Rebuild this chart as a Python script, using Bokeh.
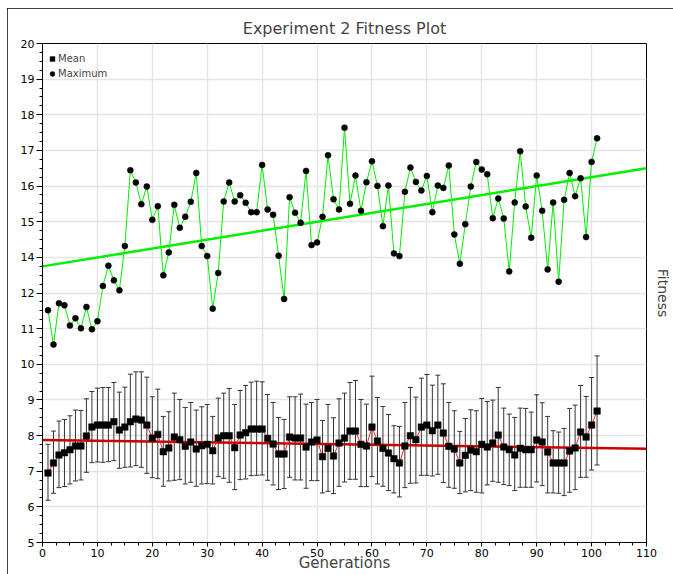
import numpy as np
from bokeh.plotting import figure
from bokeh.models import (Range1d, FixedTicker, Whisker, TeeHead, ColumnDataSource,
                          Legend, LegendItem, LinearAxis)
from bokeh.embed import file_html
from bokeh.resources import INLINE

# ---------------- data ----------------
generations = list(range(1, 102))

max_fitness = [11.98, 10.95, 12.19, 12.13, 11.52, 11.74, 11.44, 12.08, 11.41, 11.65,
               12.71, 13.32, 12.88, 12.58, 13.91, 16.19, 15.82, 15.17, 15.70, 14.70,
               15.11, 13.03, 13.72, 15.15, 14.46, 14.79, 15.24, 16.11, 13.91, 13.61,
               12.03, 13.10, 15.25, 15.82, 15.25, 15.44, 15.21, 14.93, 14.93, 16.35,
               15.01, 14.85, 13.62, 12.32, 15.38, 14.91, 14.61, 16.17, 13.94, 14.02,
               14.79, 16.64, 15.32, 15.01, 17.47, 15.18, 16.03, 14.97, 15.83, 16.46,
               15.72, 14.51, 15.73, 13.69, 13.61, 15.54, 16.27, 15.84, 15.58, 16.02,
               14.93, 15.73, 15.66, 16.33, 14.26, 13.38, 14.57, 15.70, 16.44, 16.21,
               16.07, 14.75, 15.34, 14.74, 13.15, 15.22, 16.76, 15.10, 14.16, 16.03,
               14.97, 13.21, 15.22, 12.84, 15.30, 16.11, 15.41, 15.95, 14.18, 16.44,
               17.15]

mean_fitness = [7.09, 7.39, 7.63, 7.70, 7.79, 7.90, 7.90, 8.20, 8.47, 8.53,
                8.53, 8.53, 8.63, 8.38, 8.47, 8.63, 8.71, 8.68, 8.53, 8.14,
                8.25, 7.73, 7.84, 8.17, 8.09, 7.89, 8.02, 7.81, 7.91, 7.95,
                7.76, 8.14, 8.21, 8.21, 7.85, 8.23, 8.30, 8.41, 8.41, 8.41,
                8.13, 7.96, 7.66, 7.66, 8.17, 8.14, 8.14, 7.87, 8.02, 8.08,
                7.58, 7.83, 7.60, 7.99, 8.14, 8.35, 8.35, 7.95, 7.90, 8.47,
                8.05, 7.83, 7.69, 7.52, 7.39, 7.90, 8.21, 8.09, 8.47, 8.53,
                8.36, 8.53, 8.29, 7.89, 7.81, 7.39, 7.62, 7.78, 7.73, 7.95,
                7.87, 7.99, 8.23, 7.87, 7.79, 7.63, 7.83, 7.79, 7.79, 8.08,
                8.02, 7.72, 7.39, 7.39, 7.39, 7.75, 7.84, 8.32, 8.17, 8.53,
                8.95]

mean_upper = [7.95, 8.35, 8.65, 8.70, 8.81, 8.98, 8.97, 9.32, 9.54, 9.64,
              9.66, 9.66, 9.81, 9.52, 9.67, 10.06, 10.13, 10.13, 9.97, 9.38,
              9.61, 8.79, 8.93, 9.49, 9.30, 9.06, 9.21, 8.98, 9.08, 9.15,
              8.79, 9.34, 9.49, 9.63, 9.15, 9.57, 9.72, 9.82, 9.85, 9.83,
              9.45, 9.21, 8.76, 8.70, 9.38, 9.38, 9.46, 9.16, 9.21, 9.30,
              8.67, 9.15, 8.75, 9.32, 9.49, 9.81, 9.87, 9.30, 9.16, 10.00,
              9.36, 9.09, 8.85, 8.51, 8.49, 9.21, 9.66, 9.37, 9.94, 10.05,
              9.73, 10.03, 9.77, 9.21, 8.96, 8.34, 8.73, 8.99, 8.96, 9.33,
              9.24, 9.28, 9.66, 9.04, 8.86, 8.76, 9.04, 9.03, 8.92, 9.44,
              9.20, 8.79, 8.36, 8.32, 8.43, 9.03, 9.13, 9.72, 9.39, 9.96,
              10.61]

mean_lower = [6.27, 6.48, 6.65, 6.68, 6.76, 6.85, 6.88, 7.11, 7.40, 7.42,
              7.41, 7.43, 7.46, 7.23, 7.26, 7.27, 7.31, 7.26, 7.08, 6.95,
              6.92, 6.69, 6.85, 6.87, 6.89, 6.76, 6.81, 6.69, 6.76, 6.77,
              6.76, 6.98, 6.93, 6.81, 6.59, 6.89, 6.91, 7.01, 7.02, 7.03,
              6.87, 6.73, 6.59, 6.62, 6.96, 6.88, 6.88, 6.63, 6.86, 6.86,
              6.49, 6.54, 6.47, 6.69, 6.82, 6.90, 6.90, 6.68, 6.68, 6.98,
              6.76, 6.69, 6.56, 6.49, 6.37, 6.65, 6.78, 6.79, 7.02, 7.02,
              7.00, 7.05, 6.80, 6.66, 6.63, 6.47, 6.52, 6.56, 6.51, 6.49,
              6.73, 6.84, 6.81, 6.74, 6.71, 6.56, 6.66, 6.66, 6.66, 6.82,
              6.71, 6.49, 6.49, 6.48, 6.41, 6.51, 6.59, 6.96, 6.96, 7.18,
              7.33]

trend_x = [0, 110]
max_trend = [13.30, 16.25]
mean_trend = [8.08, 7.82]

x_ticks = [0, 10, 20, 30, 40, 50, 60, 70, 80, 90, 100, 110]
y_ticks = list(np.linspace(5, 20, 15))
y_tick_labels = ["5", "6", "7", "8", "9", "10", "11", "12",
                 "14", "15", "16", "17", "18", "19", "20"]

FONT = "DejaVu Sans"

# ---------------- figure ----------------
p = figure(width=666, height=566, output_backend="svg", toolbar_location=None,
           x_range=Range1d(0, 110), y_range=Range1d(5, 20),
           min_border_left=35, min_border_right=26, min_border_top=35, min_border_bottom=31,
           title="Experiment 2 Fitness Plot")
p.margin = (8, 0, 0, 7)
p.styles = {"outline": "1px solid black", "outline-offset": "-1px"}
p.background_fill_color = "white"
p.border_fill_color = "white"
p.outline_line_color = "black"
p.outline_line_width = 1

p.title.text_font = FONT
p.title.text_font_size = "16px"
p.title.text_font_style = "normal"
p.title.align = "center"
p.title.standoff = 11

# axes
xa = p.xaxis[0]
xa.ticker = FixedTicker(ticks=x_ticks, minor_ticks=list(np.arange(0, 110.01, 2.5)))
ya = p.yaxis[0]
ya.ticker = FixedTicker(ticks=y_ticks, minor_ticks=list(np.linspace(5, 20, 57)))
ya.major_label_overrides = {t: lab for t, lab in zip(y_ticks, y_tick_labels)}
for ax in (xa, ya):
    ax.major_label_text_font = FONT
    ax.major_label_text_font_size = "11px"
    ax.major_label_text_color = "black"
    ax.axis_line_color = "black"
    ax.major_tick_line_color = "black"
    ax.minor_tick_line_color = "black"
    ax.major_tick_in = 0
    ax.minor_tick_in = 0
    ax.major_label_standoff = 2
xa.major_tick_out = 4
xa.minor_tick_out = 3
ya.major_tick_out = 6
ya.minor_tick_out = 3

xa.axis_label = "Generations"
xa.axis_label_text_font = FONT
xa.axis_label_text_font_size = "15px"
xa.axis_label_text_font_style = "normal"
xa.axis_label_standoff = -6

ra = LinearAxis(ticker=FixedTicker(ticks=[]), axis_label="Fitness",
                axis_line_color=None, major_tick_out=0, minor_tick_out=0,
                major_tick_in=0, minor_tick_in=0, major_label_standoff=0,
                axis_label_standoff=8, axis_label_text_font=FONT,
                axis_label_text_font_size="14px", axis_label_text_font_style="normal")
p.add_layout(ra, "right")

p.xgrid.ticker = FixedTicker(ticks=x_ticks)
p.ygrid.ticker = FixedTicker(ticks=y_ticks)
p.grid.grid_line_color = "#e4e4e4"
p.grid.grid_line_width = 1.5

# ---------------- mean series ----------------
src = ColumnDataSource(dict(x=generations, mean=mean_fitness, upper=mean_upper,
                            lower=mean_lower, mx=max_fitness))
wh = Whisker(base="x", upper="upper", lower="lower", source=src,
             line_color="#333333", line_width=1,
             upper_head=TeeHead(size=5, line_color="#333333", line_width=1),
             lower_head=TeeHead(size=5, line_color="#333333", line_width=1))
p.add_layout(wh)

p.line(trend_x, mean_trend, line_color="#cc0000", line_width=2.5)
p.line("x", "mean", source=src, line_color="#ff2020", line_width=1)
r_mean = p.scatter("x", "mean", source=src, marker="square", size=6.5,
                   fill_color="black", line_color="black", line_width=0.5)

# ---------------- max series ----------------
p.line(trend_x, max_trend, line_color="#00f000", line_width=2.5)
p.line("x", "mx", source=src, line_color="#00ee00", line_width=1)
r_max = p.scatter("x", "mx", source=src, marker="circle", size=6,
                  fill_color="black", line_color="black", line_width=0.5)

# ---------------- legend ----------------
legend = Legend(items=[LegendItem(label="Mean", renderers=[r_mean]),
                       LegendItem(label="Maximum", renderers=[r_max])],
                location=(4, 462), padding=0, margin=0, spacing=2,
                glyph_width=12, glyph_height=13, label_height=13, label_standoff=0,
                label_text_font=FONT, label_text_font_size="10px",
                background_fill_alpha=0, border_line_alpha=0)
p.add_layout(legend, "center")

open("out.html", "w").write(file_html(p, INLINE))
